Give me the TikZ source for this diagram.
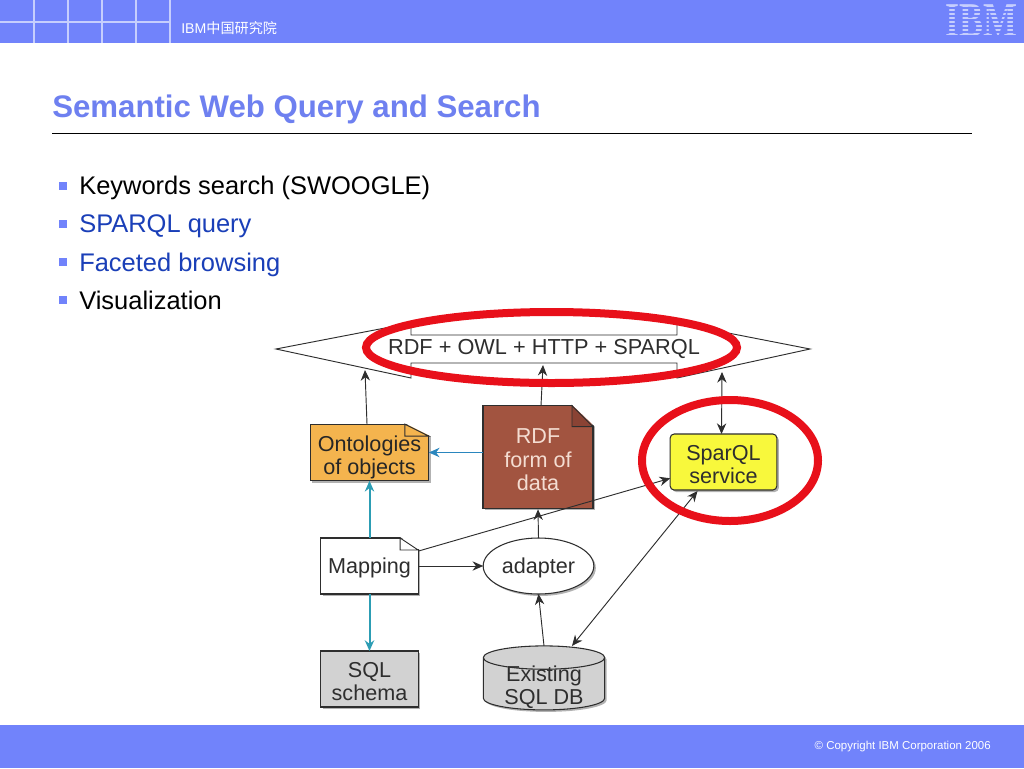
\documentclass[tikz,border=0pt]{standalone}
\usepackage{fontspec}
\setmainfont{Liberation Sans}
\newfontfamily\cjk{Noto Sans CJK SC}
\newfontfamily\logofont{Liberation Serif}
\usetikzlibrary{arrows.meta, positioning, shapes.geometric, calc, shadows}
\definecolor{bar}{HTML}{7183FB}
\definecolor{barln}{HTML}{C6CEFD}
\definecolor{head}{HTML}{6E80F0}
\definecolor{linkblue}{HTML}{1A3FB8}
\definecolor{ink}{HTML}{2E2E2E}
\definecolor{onto}{HTML}{F4B44E}
\definecolor{rdfbrn}{HTML}{A25440}
\definecolor{rdffold}{HTML}{8A4334}
\definecolor{rdftxt}{HTML}{F4DDD2}
\definecolor{spq}{HTML}{F8F83C}
\definecolor{sqlgray}{HTML}{D2D2D2}
\definecolor{ring}{HTML}{E8101A}
\definecolor{teal}{HTML}{2C9DB4}
\definecolor{blueln}{HTML}{2A86BE}
\tikzset{
  item/.style={anchor=west, inner sep=0pt, text height=13pt, text depth=4pt, font=\fontsize{19.1}{21}\selectfont, text=black},
  bull/.style={fill=bar, minimum size=6pt, inner sep=0pt},
  dbox/.style={draw=ink, line width=0.8pt, align=center, inner sep=0pt, outer sep=0pt, font=\fontsize{16.2}{17.5}\selectfont, text=ink,
               drop shadow={shadow xshift=1.5pt, shadow yshift=-1.5pt, fill=black, opacity=0.3}},
  fl/.style={-{Stealth[length=8pt, width=7pt]}, line width=0.7pt, draw=ink},
  bfl/.style={{Stealth[length=8pt, width=7pt]}-{Stealth[length=8pt, width=7pt]}, line width=0.7pt, draw=ink},
  tl/.style={-{Stealth[length=8pt, width=7pt]}, line width=1.5pt, draw=teal},
  rring/.style={draw=ring, line width=6pt},
}
% pushes a label down a little
\newcommand{\lift}[1]{\rule{0pt}{#1}}
% turned-down corner of a note
\newcommand{\dogear}[4]{
  \fill[white] ($(#1.north east)+(-#2,-1)$) -- ($(#1.north east)+(2,-1)$) -- ($(#1.north east)+(2,#3)$) -- cycle;
  \draw[draw=ink, line width=0.7pt, fill=#4] ($(#1.north east)+(-#2,0)$) -- ($(#1.north east)+(0,#3)$) -- ($(#1.north east)+(-#2,#3)$) -- cycle;
}
\begin{document}
\begin{tikzpicture}[x=0.75pt, y=-0.75pt]
  \useasboundingbox (0,0) rectangle (1024,768);
  \fill[white] (0,0) rectangle (1024,768);
  % bars
  \fill[bar] (0,0) rectangle (1024,43);
  \fill[bar] (0,725) rectangle (1024,768);
  \foreach \x in {34,68,102,136,170} {
    \draw[barln, line width=0.8pt] (\x,0) -- (\x,43);
  }
  \draw[barln, line width=0.8pt] (0,22) -- (170,22);
  \node[anchor=west, inner sep=0pt, text=white, font=\fontsize{10.6}{12}\selectfont] (lab) at (181,28) {IBM{\cjk 中国研究院}};
  \node[anchor=east, inner sep=0pt, text=white, font=\fontsize{8.6}{10}\selectfont] (copy) at (991,747) {© Copyright IBM Corporation 2006};
  \node[inner sep=0pt, text=barln, yscale=1.35, font=\logofont\bfseries\fontsize{27}{27}\selectfont] (logo) at (981,21) {IBM};
  \foreach \y in {8,12,...,36} {
    \draw[bar, line width=1pt] (940,\y) -- (1022,\y);
  }
  % title
  \node[anchor=west, inner sep=0pt, text=head, font=\bfseries\fontsize{23.4}{26}\selectfont] (title) at (52,109) {Semantic Web Query and Search};
  \draw[black, line width=0.7pt] (52,133) -- (972,133);
  % list
  \node[item] (kw) at (79,188) {Keywords search (SWOOGLE)};
  \node[item, below=11.5pt of kw.south west, anchor=north west, text=linkblue] (sq) {SPARQL query};
  \node[item, below=11.5pt of sq.south west, anchor=north west, text=linkblue] (fb) {Faceted browsing};
  \node[item, below=11.5pt of fb.south west, anchor=north west] (vis) {Visualization};
  \node[bull] (b1) at (63,186) {};
  \node[bull] (b2) at (63,224) {};
  \node[bull] (b3) at (63,262) {};
  \node[bull] (b4) at (63,300) {};
  % banner
  \draw[ink, line width=0.7pt, fill=white] (276,349) -- (411,323) -- (411,335) -- (677,335) -- (677,323) -- (810,349) -- (677,378) -- (677,363) -- (411,363) -- (411,378) -- cycle;
  \node[inner sep=0pt, text=ink, font=\fontsize{16.3}{19}\selectfont] (banner) at (544,349) {RDF + OWL + HTTP + SPARQL};
  \coordinate (bnl) at (365,370);
  \coordinate (bnm) at (543,365);
  \coordinate (bnr) at (722,372);
  % boxes
  \node[dbox, fill=white, minimum width=73pt, minimum height=42pt] (map) at (369.5,566) {\lift{14pt}Mapping};
  \node[dbox, fill=sqlgray, minimum width=73pt, minimum height=42pt, below=42.75pt of map] (schema) {\lift{15.5pt}SQL\\schema};
  \node[dbox, ellipse, fill=white, minimum width=83pt, minimum height=42pt, right=48.75pt of map] (adp) {\lift{14pt}adapter};
  \node[dbox, fill=onto, minimum width=89pt, minimum height=42.5pt, text=black!85] (ont) at (369.5,452.5) {\lift{19pt}Ontologies\\of objects};
  \node[dbox, fill=rdfbrn, minimum width=82.5pt, minimum height=77pt, text=rdftxt] (rdf) at (538,457) {\lift{15.5pt}RDF\\form of\\data};
  \node[dbox, fill=spq, rounded corners=3pt, minimum width=80pt, minimum height=42pt] (spq) at (723.5,462) {\lift{15.5pt}SparQL\\service};
  \node[dbox, cylinder, shape border rotate=90, aspect=0.25, fill=sqlgray, minimum width=91pt, minimum height=48pt] (db) at (544,684) {\hspace*{70pt}};
  \node[inner sep=0pt, align=center, text=ink, font=\fontsize{16.2}{17.5}\selectfont] (dbtxt) at (544,687) {Existing\\SQL DB};
  \dogear{ont}{24}{12}{onto}
  \dogear{rdf}{21}{21}{rdffold}
  \dogear{map}{18}{12}{white}
  % arrows
  \draw[fl] ($(ont.north)+(-2.5,0)$) -- (bnl);
  \draw[fl] ($(rdf.north)+(3,0)$) -- (bnm);
  \draw[bfl] ($(spq.north)+(-2,0)$) -- (bnr);
  \draw[-{Stealth[length=8pt, width=7pt]}, line width=1.2pt, draw=blueln] (rdf.west |- ont.east) -- (ont.east);
  \draw[tl] (map.north) -- (ont.south);
  \draw[tl] (map.south) -- (schema.north);
  \draw[fl] (map.east) -- (adp.west);
  \draw[fl] (map.17) -- (spq.197);
  \draw[fl] (adp.north) -- ($(rdf.south)+(0,1)$);
  \draw[fl] (db.north) -- (adp.south);
  \draw[bfl] ($(db.north)+(28,0)$) -- ($(spq.south)+(-26,1)$);
  % highlight rings
  \draw[rring] (551.5,347.5) ellipse (185.5 and 35.5);
  \draw[rring] (730,460.5) ellipse (88 and 60.5);
\end{tikzpicture}
\end{document}
